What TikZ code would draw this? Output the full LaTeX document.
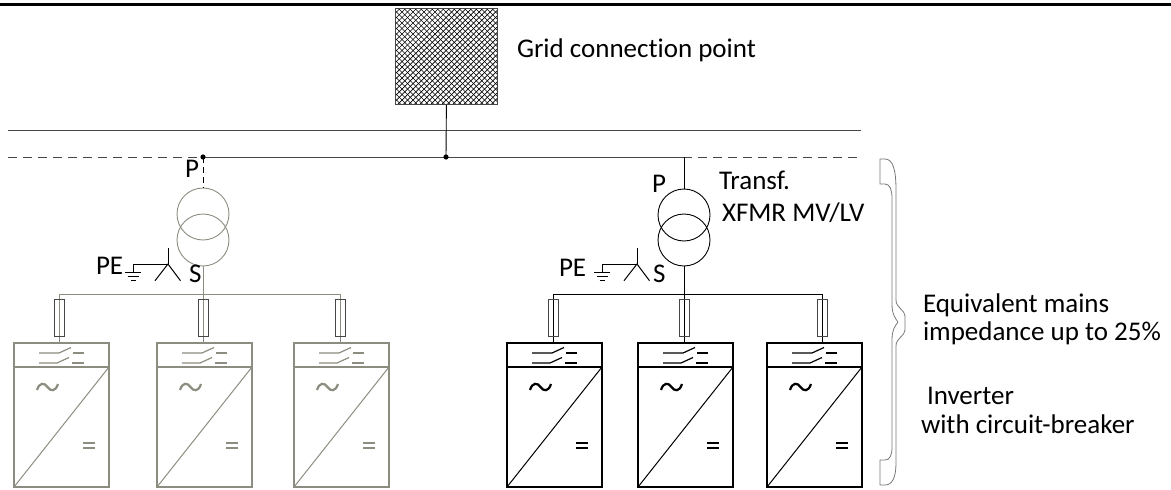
\documentclass[tikz,border=0pt]{standalone}
\usepackage{fontspec}
\setmainfont{Carlito}[Ligatures={NoCommon}]
\definecolor{lgrey}{RGB}{140,140,128}
\definecolor{dgrey}{RGB}{70,70,70}
\definecolor{bgrey}{RGB}{120,120,120}
\tikzset{
  lbl/.style={inner sep=0pt, outer sep=0pt, anchor=base west, font=\fontsize{27}{28}\selectfont},
  fusebox/.style={draw, fill=white, minimum width=10pt, minimum height=37pt, inner sep=0pt, line width=0.8pt},
  xfmr/.style={circle, draw, minimum size=52pt, inner sep=0pt, line width=0.9pt},
  inv/.pic={
    \draw[line width=1.8pt] (0,0) rectangle (95,144);
    \draw[line width=1.8pt] (0,24) -- (95,24);
    \draw[line width=1pt] (0,144) -- (95,24);
    \draw[line width=1.2pt] (25,10) -- (45,10) -- (57,4.5);
    \draw[line width=1.2pt] (59,10) -- (70,10);
    \draw[line width=1.2pt] (25,20) -- (43,20) -- (55,14.5);
    \draw[line width=1.2pt] (58,20) -- (70,20);
    \draw[line width=2.2pt] (23,47) .. controls (25.5,39) and (30.5,39.5) .. (33.5,44)
       .. controls (36.5,48.5) and (41.5,49) .. (44,41);
    \draw[line width=1.2pt] (69,100) -- (81,100) (69,105) -- (81,105);
  }
}
\begin{document}
\begin{tikzpicture}[x=1pt,y=-1pt]
\useasboundingbox (0,0) rectangle (1171,490);
% top rule
\draw[line width=2.2pt] (0,4.5) -- (1171,4.5);
% grid connection point
\node[draw=dgrey, line width=0.8pt, minimum width=102pt, minimum height=96pt, inner sep=0pt, anchor=north west] (grid) at (395,8) {};
\begin{scope}
  \clip (395,8) rectangle (497,104);
  \foreach \i in {299,304.5,...,500} {
    \draw[line width=0.7pt] (\i,104) -- ++(96,-96);
    \draw[line width=0.7pt] (\i,8) -- ++(96,96);
  }
\end{scope}
\node[draw=dgrey, line width=0.8pt, minimum width=102pt, minimum height=96pt, inner sep=0pt, anchor=north west] at (395,8) {};
\node[lbl] (gridtxt) at (517,57) {Grid connection point};
% bus lines
\coordinate (hvL) at (8,130);
\coordinate (hvR) at (861,130);
\coordinate (mvL) at (8,157);
\coordinate (mvR) at (861,157);
\coordinate (jl) at (203,157);
\coordinate (jg) at (446,157);
\coordinate (jr) at (684,157);
\draw[dgrey, line width=0.9pt] (hvL) -- (hvR);
\draw[dgrey, line width=0.9pt, dash pattern=on 9pt off 6pt] (mvL) -- (mvR);
\draw[dgrey, line width=0.9pt] (jl) -- (jr);
\draw[line width=0.9pt] (grid.south) -- (jg);
\fill (jl) circle (2.6);
\fill (jg) circle (2.6);
% left transformer (grey)
\node[xfmr, draw=lgrey] (tl1) at (203,214) {};
\node[xfmr, draw=lgrey] (tl2) at (203,240) {};
\draw[line width=0.9pt, dash pattern=on 6pt off 4pt] (jl) -- (tl1.north);
\coordinate (bl) at (203,294);
\coordinate (blL) at (59.5,294);
\coordinate (blR) at (340,294);
\draw[lgrey, line width=1pt] (tl2.south) -- (bl);
\draw[lgrey, line width=1pt] (blL) -- (blR);
\node[lbl] (Pl) at (185,177) {P};
\node[lbl] (Sl) at (189,282) {S};
\node[lbl] (PEl) at (96,274) {PE};
\coordinate (gl) at (133,264);
\coordinate (yl) at (168,264);
\draw[line width=1pt] (gl) -- (yl) -- ++(0,-16);
\draw[line width=1pt] (gl) -- ++(0,8);
\draw[line width=1pt] (125,272.3) -- (141,272.3) (127.5,276.7) -- (138.5,276.7) (130.5,280.7) -- (135.5,280.7);
\draw[line width=1pt] (155,280.7) -- (yl) -- (180.5,280.7);
% left inverters
\foreach \x/\f/\n in {14/59.5/1, 157/203/2, 294/340/3} {
  \draw[lgrey, line width=1pt] (\f,294) -- (\f,343);
  \node[fusebox, draw=dgrey, fill=none] (fl\n) at (\f,317.5) {};
  \pic[color=lgrey] at (\x,343) {inv};
}
% right transformer (black)
\node[xfmr] (tr1) at (684,215) {};
\node[xfmr] (tr2) at (684,240) {};
\draw[line width=1pt] (jr) -- (tr1.north);
\coordinate (br) at (684,294);
\coordinate (brL) at (553.7,294);
\coordinate (brR) at (822.7,294);
\draw[line width=1pt] (tr2.south) -- (br);
\draw[line width=1pt] (brL) -- (brR);
\node[lbl] (Pr) at (652,192) {P};
\node[lbl] (Sr) at (653,282) {S};
\node[lbl] (PEr) at (559,276) {PE};
\coordinate (gr) at (602,264);
\coordinate (yr) at (637,264);
\draw[line width=1pt] (gr) -- (yr) -- ++(0,-16);
\draw[line width=1pt] (gr) -- ++(0,8);
\draw[line width=1pt] (594,272.3) -- (610,272.3) (596.5,276.7) -- (607.5,276.7) (599.5,280.7) -- (604.5,280.7);
\draw[line width=1pt] (624,280.7) -- (yr) -- (649.5,280.7);
\node[lbl] (tf1) at (719,189) {Transf.};
\node[lbl] (tf2) at (722,221) {XFMR MV/LV};
% right inverters
\foreach \x/\f/\n in {507/553.7/1, 638/684.7/2, 767/822.7/3} {
  \draw[line width=1pt] (\f,294) -- (\f,343);
  \node[fusebox, draw=dgrey, fill=none] (fr\n) at (\f,317.5) {};
  \pic[color=black] at (\x,343) {inv};
}
% brace
\draw[bgrey, line width=0.8pt] (880,159) -- (885,159) .. controls (893,159) and (896,170) .. (896,190)
  -- (896,300) .. controls (896,308) and (905,310) .. (905,316) -- (905,330)
  .. controls (905,336) and (896,338) .. (896,346) -- (896,463)
  .. controls (896,478) and (892,485) .. (885,485) -- (880,485) -- (880,460) -- (885,460)
  .. controls (890,460) and (892,455) .. (892,447) -- (892,340)
  .. controls (892,330) and (895,326) .. (898,322)
  .. controls (895,318) and (892,314) .. (892,304) -- (892,198)
  .. controls (892,190) and (890,184) .. (885,184) -- (880,184) -- cycle;
\node[lbl] (eq1) at (923,312) {Equivalent mains};
\node[lbl] (eq2) at (923,340) {impedance up to 25\%};
\node[lbl] (iv1) at (927,404) {Inverter};
\node[lbl] (iv2) at (921,433) {with circuit-breaker};
\end{tikzpicture}
\end{document}
